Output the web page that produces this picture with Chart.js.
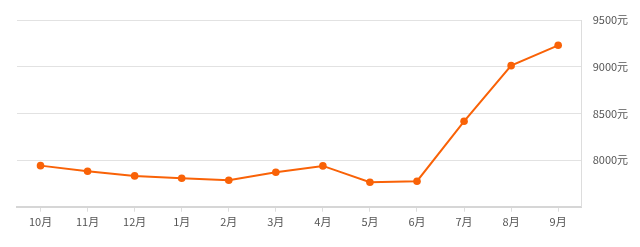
<!DOCTYPE html>
<html>
<head>
<meta charset="utf-8">
<script src="https://cdn.jsdelivr.net/npm/chart.js@4/dist/chart.umd.min.js"></script>
<style>
html,body{margin:0;padding:0;background:#fff;}
#wrap{width:640px;height:247px;position:relative;}
</style>
</head>
<body>
<div id="wrap"><canvas id="c"></canvas></div>
<script>
const categories = ['10月','11月','12月','1月','2月','3月','4月','5月','6月','7月','8月','9月'];
const prices = [7940, 7880, 7830, 7805, 7784, 7869, 7937, 7762, 7773, 8415, 9011, 9229];
const yTickValues = [8000, 8500, 9000, 9500];
const yUnit = '元';

const FONT = '"Noto Sans CJK SC", "Noto Sans", sans-serif';
new Chart(document.getElementById('c'), {
  type: 'line',
  data: {
    labels: categories,
    datasets: [{
      data: prices,
      borderColor: '#f96207',
      backgroundColor: '#f96207',
      borderWidth: 2,
      pointRadius: 3.8,
      pointBackgroundColor: '#f96207',
      pointBorderWidth: 0,
      tension: 0,
      fill: false
    }]
  },
  options: {
    responsive: true,
    maintainAspectRatio: false,
    animation: false,
    layout: { padding: { top: 20, left: 17, right: 0, bottom: 0 } },
    plugins: { legend: { display: false }, tooltip: { enabled: false } },
    scales: {
      x: {
        offset: true,
        grid: { offset: false, drawOnChartArea: false, drawTicks: true, tickLength: 5, color: '#dddddd' },
        border: { display: true, color: '#d6d6d6', width: 2 },
        ticks: { color: '#555', font: { family: FONT, size: 11 }, padding: 4, maxRotation: 0, autoSkip: false },
        afterFit: s => { s.height = 40.3; }
      },
      y: {
        position: 'right',
        min: 7500, max: 9500,
        afterBuildTicks: s => { s.ticks = [7500].concat(yTickValues).map(v => ({ value: v })); },
        grid: { drawTicks: false, color: '#e2e2e2', lineWidth: 1 },
        border: { display: true, color: '#dddddd', width: 1 },
        ticks: {
          color: '#555', font: { family: FONT, size: 11 }, padding: 11,
          callback: v => yTickValues.includes(v) ? v + yUnit : ''
        },
        afterFit: s => { s.width = 58.3; }
      }
    }
  }
});
</script>
</body>
</html>
